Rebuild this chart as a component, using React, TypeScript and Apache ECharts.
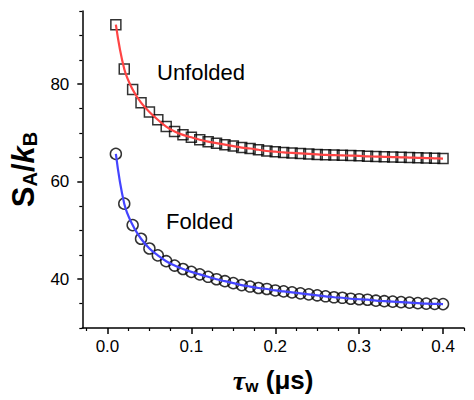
import React, { useEffect, useRef } from "react";
import * as echarts from "echarts";

const tau = [0.01,0.02,0.03,0.04,0.05,0.06,0.07,0.08,0.09,0.10,0.11,0.12,0.13,0.14,0.15,0.16,0.17,0.18,0.19,0.20,0.21,0.22,0.23,0.24,0.25,0.26,0.27,0.28,0.29,0.30,0.31,0.32,0.33,0.34,0.35,0.36,0.37,0.38,0.39,0.40];
const unfolded = [92.2,83.1,78.9,76.2,74.3,72.7,71.3,70.3,69.6,69.1,68.6,68.2,67.9,67.6,67.3,67.0,66.8,66.55,66.3,66.15,66.0,65.9,65.8,65.7,65.6,65.5,65.45,65.4,65.35,65.3,65.2,65.15,65.1,65.05,65.0,64.95,64.9,64.85,64.8,64.75];
const folded = [65.7,55.5,51.1,48.3,46.3,44.9,43.7,42.8,42.1,41.5,41.0,40.5,40.0,39.6,39.2,38.8,38.5,38.2,38.0,37.7,37.5,37.3,37.1,36.9,36.7,36.5,36.3,36.2,36.0,35.9,35.8,35.6,35.5,35.4,35.3,35.2,35.1,35.0,34.95,34.9];

const xMajorTicks = [0, 0.1, 0.2, 0.3, 0.4];
const xMinorTicks = [-0.025,0.025,0.05,0.075,0.125,0.15,0.175,0.225,0.25,0.275,0.325,0.35,0.375,0.425];
const yMajorTicks = [40, 60, 80];
const yMinorTicks = [30,35,45,50,55,65,70,75,85,90,95];

const FONT = "Liberation Sans, Arial, sans-serif";

export default function App() {
  const ref = useRef<HTMLDivElement>(null);
  useEffect(() => {
    if (!ref.current) return;
    const chart = echarts.init(ref.current, null, { renderer: "svg" });
    const axisLine = { show: true, onZero: false, lineStyle: { color: "#000", width: 1.5 } };
    const xBase = { type: "value", min: -0.03, max: 0.425, splitLine: { show: false } };
    const yBase = { type: "value", min: 30, max: 95, splitLine: { show: false } };
    const pairs = (ys: number[]) => tau.map((t, i) => [t, ys[i]]);
    chart.setOption({
      animation: false,
      grid: { left: 79, top: 11, right: 10, bottom: 69 },
      xAxis: [
        {
          ...xBase,
          axisLine,
          axisTick: { show: true, customValues: xMajorTicks, length: 6, lineStyle: { color: "#000", width: 1.5 } },
          axisLabel: {
            customValues: xMajorTicks,
            formatter: (v: number) => v.toFixed(1),
            color: "#000", fontSize: 17, fontFamily: FONT, margin: 10,
          },
          name: "{tau|τ}{sub|w}{main| (μs)}",
          nameLocation: "middle",
          nameGap: 37,
          nameTextStyle: {
            color: "#000",
            rich: {
              tau: { fontSize: 28, fontStyle: "italic", fontFamily: "Liberation Serif, serif", fontWeight: "bold", color: "#000", lineHeight: 30 },
              sub: { fontSize: 17, fontWeight: "bold", fontFamily: FONT, color: "#000", lineHeight: 10, verticalAlign: "bottom" },
              main: { fontSize: 26, fontWeight: "bold", fontFamily: FONT, color: "#000", lineHeight: 30 },
            },
          },
        },
        {
          ...xBase,
          position: "bottom",
          axisLine: { show: false, onZero: false },
          axisTick: { show: true, customValues: xMinorTicks, length: 3, lineStyle: { color: "#000", width: 1.2 } },
          axisLabel: { show: false },
        },
      ],
      yAxis: [
        {
          ...yBase,
          axisLine,
          axisTick: { show: true, customValues: yMajorTicks, length: 5, lineStyle: { color: "#000", width: 1.5 } },
          axisLabel: {
            customValues: yMajorTicks,
            color: "#000", fontSize: 17, fontFamily: FONT, margin: 13,
          },
          name: "{main|S}{sub|A}{main|/}{k|k}{sub|B}",
          nameLocation: "middle",
          nameGap: 37,
          nameRotate: 90,
          nameTextStyle: {
            color: "#000",
            rich: {
              main: { fontSize: 31, fontWeight: "bold", fontFamily: FONT, color: "#000", lineHeight: 32 },
              k: { fontSize: 31, fontWeight: "bold", fontStyle: "italic", fontFamily: FONT, color: "#000", lineHeight: 32 },
              sub: { fontSize: 20, fontWeight: "bold", fontFamily: FONT, color: "#000", lineHeight: 12, verticalAlign: "bottom" },
            },
          },
        },
        {
          ...yBase,
          position: "left",
          axisLine: { show: false, onZero: false },
          axisTick: { show: true, customValues: yMinorTicks, length: 3, lineStyle: { color: "#000", width: 1.2 } },
          axisLabel: { show: false },
        },
      ],
      graphic: [
        { type: "text", left: 157, top: 61, style: { text: "Unfolded", fontSize: 22, fontFamily: FONT, fill: "#000" } },
        { type: "text", left: 166, top: 210, style: { text: "Folded", fontSize: 22, fontFamily: FONT, fill: "#000" } },
      ],
      series: [
        {
          type: "scatter", data: pairs(unfolded), symbol: "rect", symbolSize: 10,
          itemStyle: { color: "rgba(0,0,0,0)", borderColor: "#000", borderWidth: 1.5 }, z: 2,
        },
        {
          type: "scatter", data: pairs(folded), symbol: "circle", symbolSize: 11,
          itemStyle: { color: "rgba(0,0,0,0)", borderColor: "#000", borderWidth: 1.5 }, z: 2,
        },
        {
          type: "line", data: pairs(unfolded), smooth: 0.4, showSymbol: false,
          lineStyle: { color: "#ff4444", width: 2.2 }, z: 3,
        },
        {
          type: "line", data: pairs(folded), smooth: 0.4, showSymbol: false,
          lineStyle: { color: "#4444ff", width: 2.2 }, z: 3,
        },
      ],
    });
    return () => chart.dispose();
  }, []);
  return <div ref={ref} style={{ position: "absolute", left: 0, top: 0, width: 474, height: 400 }} />;
}
